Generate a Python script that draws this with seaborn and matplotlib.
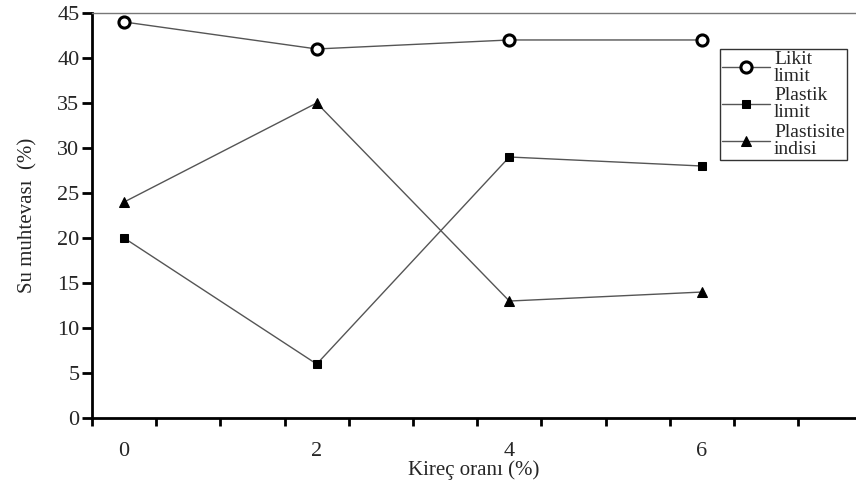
import numpy as np
import pandas as pd
import matplotlib.pyplot as plt
import seaborn as sns

# Kireç oranı (%) ve su muhtevası değerleri
kirec = [0, 2, 4, 6]
likit_limit = [44, 41, 42, 42]
plastik_limit = [20, 6, 29, 28]
plastisite_indisi = [24, 35, 13, 14]
seri_adlari = ['Likit\nlimit', 'Plastik\nlimit', 'Plastisite\nindisi']

df = pd.DataFrame({
    'kirec': kirec * 3,
    'deger': likit_limit + plastik_limit + plastisite_indisi,
    'seri': np.repeat(seri_adlari, len(kirec)),
})

sns.set_style('white')
plt.rcParams['font.family'] = ['Liberation Serif', 'DejaVu Serif']

fig = plt.figure(figsize=(8.56, 4.8), dpi=100)
ax = fig.add_axes([0.1075, 0.129, 0.8925, 0.844])

stiller = {
    seri_adlari[0]: dict(marker='o', markersize=8, markerfacecolor='white',
                         markeredgecolor='black', markeredgewidth=2.2),
    seri_adlari[1]: dict(marker='s', markersize=6, markerfacecolor='black',
                         markeredgecolor='black'),
    seri_adlari[2]: dict(marker='^', markersize=7, markerfacecolor='black',
                         markeredgecolor='black'),
}
for ad in seri_adlari:
    sns.lineplot(data=df[df['seri'] == ad], x='kirec', y='deger', ax=ax,
                 color='#555555', linewidth=1.0, label=ad, **stiller[ad])

ax.set_xlim(-1 / 3, 7.6)
ax.set_ylim(0, 45)
ax.set_yticks(range(0, 46, 5))
ax.set_xticks(kirec)
ax.set_xticks(np.arange(-1 / 3, 7.5, 2 / 3), minor=True)
ax.tick_params(axis='x', which='major', length=0, pad=17, labelsize=16)
ax.tick_params(axis='x', which='minor', length=6, width=2, direction='out',
               bottom=True, color='black')
ax.tick_params(axis='y', length=7, width=2, direction='out', left=True,
               labelsize=16, color='black', pad=2)

for s in ['left', 'bottom']:
    ax.spines[s].set_linewidth(2)
    ax.spines[s].set_color('black')
ax.spines['top'].set_linewidth(1)
ax.spines['top'].set_color('#777777')
ax.spines['right'].set_visible(False)

ax.set_xlabel('Kireç oranı (%)', fontsize=15, labelpad=0)
ax.set_ylabel('Su muhtevası  (%)', fontsize=15, labelpad=14)

leg = ax.legend(loc='upper left', bbox_to_anchor=(0.8215, 0.912), frameon=True,
                fancybox=False, edgecolor='black', fontsize=14,
                handlelength=2.5, labelspacing=0.15, borderpad=0.1,
                handletextpad=0.2, borderaxespad=0)
leg.get_frame().set_linewidth(1)
for t in leg.get_texts():
    t.set_linespacing(1.0)

fig.savefig('out.png', dpi=100)
